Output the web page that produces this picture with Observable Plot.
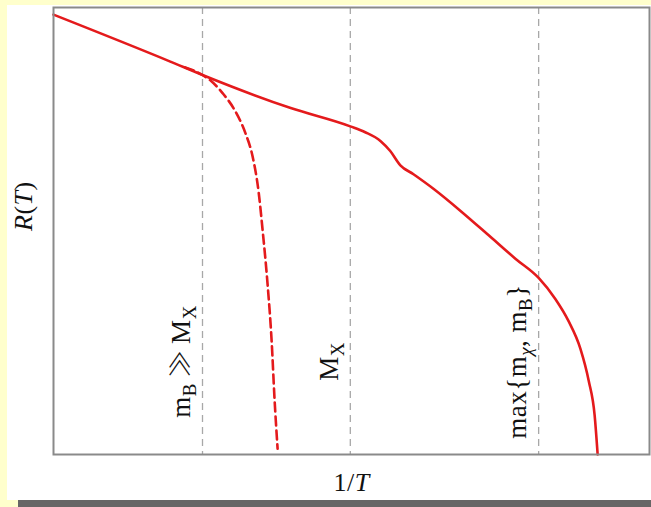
<!DOCTYPE html>
<html>
<head>
<meta charset="utf-8">
<script src="https://cdn.jsdelivr.net/npm/d3@7"></script>
<script src="https://cdn.jsdelivr.net/npm/@observablehq/plot@0.6"></script>
<style>
  html, body { margin: 0; padding: 0; background: #ffffcc; width: 651px; height: 507px; overflow: hidden; }
  #box { position: absolute; left: 7px; top: 5px; width: 644px; height: 495px; background: #fff; box-shadow: 11px 7px 0 #666; }
  #box svg { display: block; }
</style>
</head>
<body>
<div id="box"></div>
<script>
// ---- data (arbitrary units: x = 1/T from 0 to 100, y = log R from 0 to 100) ----
const solidX = [0, 19.6, 25.0, 39.8, 49.8, 52.3, 54.9, 56.5, 58.2, 60.4, 63.8, 68.3, 73.3, 77.5, 81.4, 84.2, 86.4, 88.4, 89.8, 90.8, 91.3];
const solidY = [98.4, 87.9, 84.9, 77.5, 73.4, 72.1, 70.1, 67.9, 64.7, 62.7, 59.4, 54.5, 48.7, 43.8, 39.5, 34.8, 29.9, 23.7, 16.5, 8.7, 0];
const dashX = [22.1, 25.0, 26.4, 28.4, 30.5, 32.2, 33.4, 34.4, 35.1, 35.9, 36.6, 37.1, 37.6];
const dashY = [86.6, 84.9, 83.6, 80.8, 76.8, 71.9, 66.7, 58.9, 50.0, 38.4, 25.4, 12.1, 1.3];
const xLines = [25.0, 49.8, 81.4];
// markup: "_c" or "_$c$" = subscript, "$...$" = italic, "#...#" = relation glyph
const lineLabels = ["m_B\u2009#≫#\u2009M_X", "M_X", "max{m_$χ$, m_B}"];
const xLabel = "1/$T$";
const yLabel = "$R$($T$)";

// ---- tiny markup parser ----
function parse(s) {
  const segs = [];
  let italic = false, rel = false, i = 0;
  const push = (t, sub, it, r) => {
    const last = segs[segs.length - 1];
    if (last && !sub && !last.sub && last.it === it && last.rel === r) last.t += t;
    else segs.push({t, sub, it, rel: r});
  };
  while (i < s.length) {
    const c = s[i];
    if (c === "$") { italic = !italic; i++; continue; }
    if (c === "#") { rel = !rel; i++; continue; }
    if (c === "_") {
      i++;
      if (s[i] === "$") { const j = s.indexOf("$", i + 1); push(s.slice(i + 1, j), true, true, false); i = j + 1; }
      else { push(s[i], true, italic, false); i++; }
      continue;
    }
    push(c, false, italic, rel); i++;
  }
  return segs;
}
const plain = s => parse(s).map(d => d.t).join("");
const richMap = new Map();
function reg(s, size) { richMap.set(plain(s), {segs: parse(s), size}); return plain(s); }

const labelSize = 27, axisSize = 26;
const labelTable = xLines.map((x, i) => ({x, label: reg(lineLabels[i], labelSize)}));
const xLab = reg(xLabel, axisSize);
const yLab = reg(yLabel, axisSize);

const solid = solidX.map((x, i) => ({x, y: solidY[i]}));
const dashed = dashX.map((x, i) => ({x, y: dashY[i]}));

const red = "#e41a1c";
const font = "'Liberation Serif', 'DejaVu Serif', serif";

const chart = Plot.plot({
  width: 644,
  height: 495,
  marginLeft: 46,
  marginRight: 2,
  marginTop: 2,
  marginBottom: 46,
  x: {domain: [0, 100], axis: null},
  y: {domain: [0, 100], axis: null},
  style: {fontFamily: font, background: "white", color: "#111"},
  marks: [
    Plot.ruleX(xLines, {stroke: "#a8a8a8", strokeWidth: 1.3, strokeDasharray: "7,5"}),
    Plot.line(dashed, {x: "x", y: "y", stroke: red, strokeWidth: 2.6, strokeDasharray: "9,5", curve: "monotone-x"}),
    Plot.line(solid, {x: "x", y: "y", stroke: red, strokeWidth: 2.6, curve: "monotone-x"}),
    Plot.text(labelTable, {x: "x", text: "label", frameAnchor: "bottom", dy: -93, dx: -21, rotate: -90, fontSize: labelSize, fill: "#111", textAnchor: "middle", lineAnchor: "middle", fontFamily: font}),
    Plot.text([xLab], {text: d => d, frameAnchor: "bottom", dy: 28, lineAnchor: "middle", fontSize: axisSize, fill: "#111", fontFamily: font}),
    Plot.text([yLab], {text: d => d, frameAnchor: "left", dx: -30, rotate: -90, lineAnchor: "middle", fontSize: axisSize, fill: "#111", fontFamily: font}),
    Plot.frame({stroke: "#8a8a8a", strokeWidth: 2})
  ]
});

// rebuild rich text with tspans (subscripts, italics)
d3.select(chart).selectAll("text").each(function() {
  const el = this;
  const key = el.textContent;
  if (!richMap.has(key)) return;
  const {segs, size} = richMap.get(key);
  while (el.firstChild) el.removeChild(el.firstChild);
  el.setAttribute("letter-spacing", "0.5");
  const shift = 0.22 * size;
  let offset = 0;
  for (const s of segs) {
    const ts = document.createElementNS("http://www.w3.org/2000/svg", "tspan");
    ts.textContent = s.t;
    const target = s.sub ? shift : 0;
    if (target !== offset) { ts.setAttribute("dy", target - offset); offset = target; }
    if (s.sub) ts.setAttribute("font-size", (0.7 * size) + "px");
    if (s.it) ts.setAttribute("font-style", "italic");
    if (s.rel) { ts.setAttribute("font-family", "'Noto Sans CJK JP', 'DejaVu Sans'"); ts.setAttribute("font-weight", "300"); }
    el.appendChild(ts);
  }
});

document.getElementById("box").appendChild(chart);
</script>
</body>
</html>
